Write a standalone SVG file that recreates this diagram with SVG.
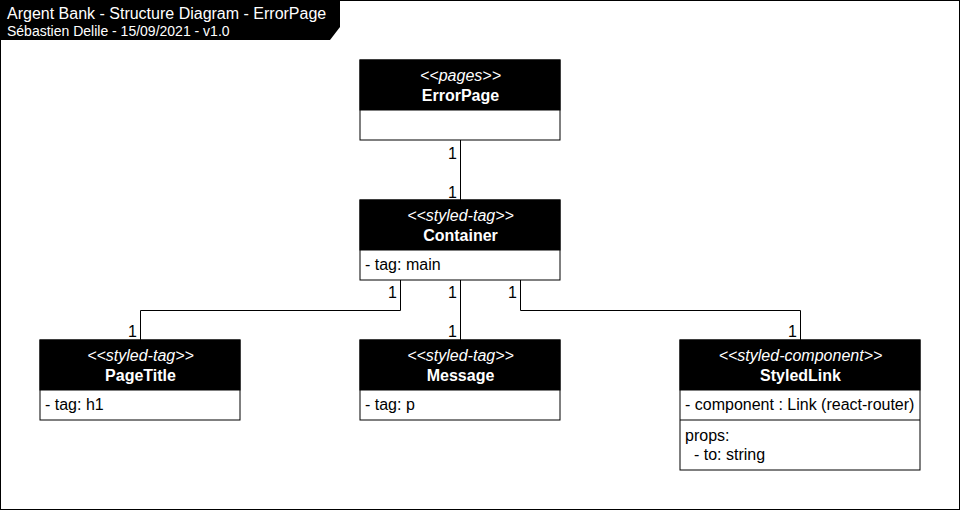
<svg xmlns="http://www.w3.org/2000/svg" width="961" height="511" viewBox="0 0 961 511">
<style>
.box{fill:#fff;stroke:#000;stroke-width:1}
.hdr{fill:#000;stroke:#000;stroke-width:1}
.st{font-family:"Liberation Sans",Arial,sans-serif;font-size:16px;font-style:italic;fill:#fff;text-anchor:middle}
.nm{font-family:"Liberation Sans",Arial,sans-serif;font-size:16px;font-weight:bold;fill:#fff;text-anchor:middle}
.at{font-family:"Liberation Sans",Arial,sans-serif;font-size:16px;fill:#000}
.lb{font-family:"Liberation Sans",Arial,sans-serif;font-size:16px;fill:#000;text-anchor:end}
.ln{fill:none;stroke:#000;stroke-width:1}
</style>
<rect x="0" y="0" width="961" height="511" fill="#fff"/>
<rect x="0.5" y="0.5" width="959" height="509" fill="none" stroke="#000" stroke-width="1"/>
<g id="title">
<polygon points="0,0 340,0 340,27 330,40 0,40" fill="#000"/>
<text x="7" y="19" font-family="Liberation Sans,Arial,sans-serif" font-size="16" fill="#fff">Argent Bank - Structure Diagram - ErrorPage</text>
<text x="7" y="36" font-family="Liberation Sans,Arial,sans-serif" font-size="14" fill="#fff">Sébastien Delile - 15/09/2021 - v1.0</text>
</g>
<g id="connectors">
<path class="ln" d="M460.5,140 V200"/>
<path class="ln" d="M400.5,280 V310.5 H140.5 V340"/>
<path class="ln" d="M460.5,280 V340"/>
<path class="ln" d="M520.5,280 V310.5 H800.5 V340"/>
<text class="lb" x="457" y="159">1</text>
<text class="lb" x="457" y="198">1</text>
<text class="lb" x="397" y="298">1</text>
<text class="lb" x="137" y="337">1</text>
<text class="lb" x="457" y="298">1</text>
<text class="lb" x="457" y="337">1</text>
<text class="lb" x="517" y="298">1</text>
<text class="lb" x="797" y="337">1</text>
</g>
<g id="ErrorPage">
<rect class="box" x="360" y="60" width="200" height="80"/>
<rect class="hdr" x="360" y="60" width="200" height="50"/>
<text class="st" x="460.5" y="81">&lt;&lt;pages&gt;&gt;</text>
<text class="nm" x="460.5" y="101">ErrorPage</text>
</g>
<g id="Container">
<rect class="box" x="360" y="200" width="200" height="80"/>
<rect class="hdr" x="360" y="200" width="200" height="50"/>
<text class="st" x="460.5" y="221">&lt;&lt;styled-tag&gt;&gt;</text>
<text class="nm" x="460.5" y="241">Container</text>
<text class="at" x="365" y="270">- tag: main</text>
</g>
<g id="PageTitle">
<rect class="box" x="40" y="340" width="200" height="80"/>
<rect class="hdr" x="40" y="340" width="200" height="50"/>
<text class="st" x="140.5" y="361">&lt;&lt;styled-tag&gt;&gt;</text>
<text class="nm" x="140.5" y="381">PageTitle</text>
<text class="at" x="45" y="410">- tag: h1</text>
</g>
<g id="Message">
<rect class="box" x="360" y="340" width="200" height="80"/>
<rect class="hdr" x="360" y="340" width="200" height="50"/>
<text class="st" x="460.5" y="361">&lt;&lt;styled-tag&gt;&gt;</text>
<text class="nm" x="460.5" y="381">Message</text>
<text class="at" x="365" y="410">- tag: p</text>
</g>
<g id="StyledLink">
<rect class="box" x="680" y="340" width="240" height="130"/>
<rect class="hdr" x="680" y="340" width="240" height="50"/>
<line class="ln" x1="680" y1="420" x2="920" y2="420"/>
<text class="st" x="800.5" y="361">&lt;&lt;styled-component&gt;&gt;</text>
<text class="nm" x="800.5" y="381">StyledLink</text>
<text class="at" x="685" y="410">- component : Link (react-router)</text>
<text class="at" x="685" y="441">props:</text>
<text class="at" x="694" y="460">- to: string</text>
</g>
</svg>
